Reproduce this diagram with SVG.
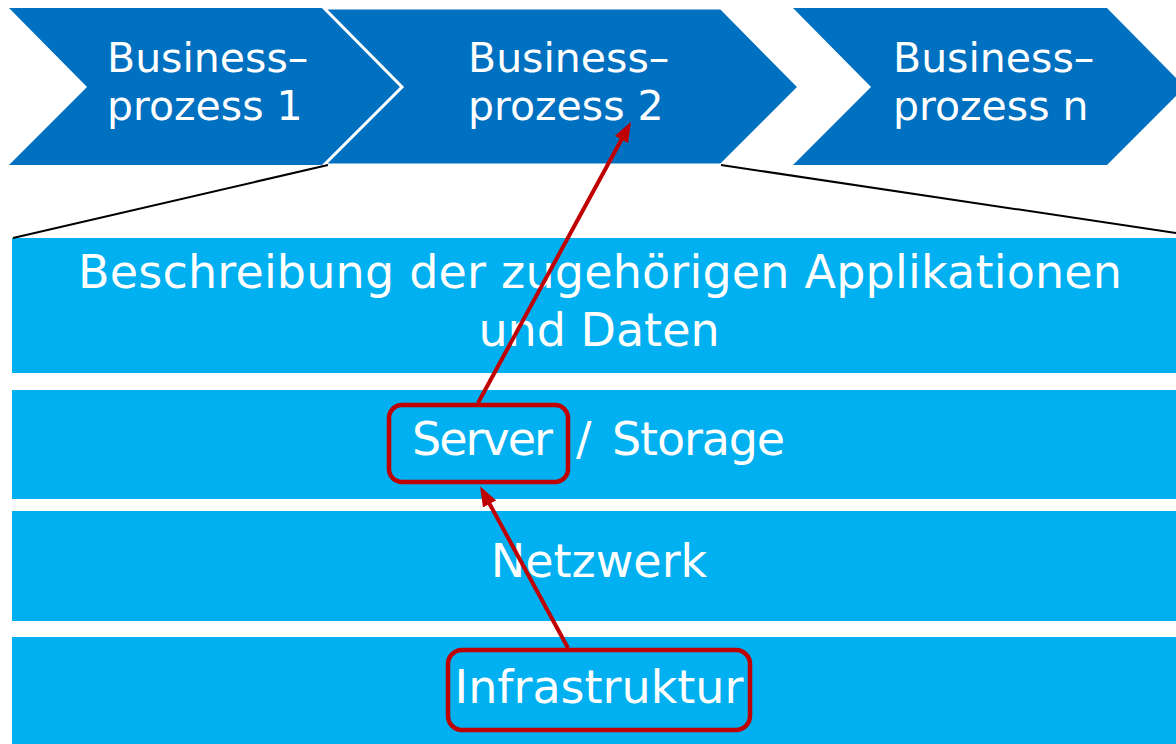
<svg xmlns="http://www.w3.org/2000/svg" width="1176" height="744" viewBox="0 0 1176 744">
<style>
.chev{fill:#0070C0}
.band{fill:#00B0F0}
.t{font-family:"DejaVu Sans","Verdana",sans-serif;fill:#FFFFFF}
.ct{font-size:41px}
.bt{font-size:46px}
.hl{fill:none;stroke:#C00000;stroke-width:4.5}
.edge{stroke:#000000;stroke-width:2;fill:none}
.red{stroke:#C00000;stroke-width:4;fill:none}
</style>
<defs>
<marker id="ah" viewBox="0 0 20 15" refX="9" refY="7.5" markerWidth="20" markerHeight="15" markerUnits="userSpaceOnUse" orient="auto">
<path d="M0,0 L20,7.5 L0,15 z" fill="#C00000"/>
</marker>
</defs>
<rect width="1176" height="744" fill="#FFFFFF"/>
<g id="bp1">
<polygon class="chev" points="9,8 325,8 403,87 325,165 9,165 87,87"/>
<text class="t ct" x="107" y="72">Business–</text>
<text class="t ct" x="107" y="120">prozess 1</text>
</g>
<g id="bp2">
<polygon class="chev" points="324,8 721,8 799,87 721,165 324,165 402,87" stroke="#FFFFFF" stroke-width="3"/>
<text class="t ct" x="468" y="72">Business–</text>
<text class="t ct" x="468" y="120">prozess 2</text>
</g>
<g id="bpn">
<polygon class="chev" points="793,8 1107,8 1185,87 1107,165 793,165 871,87"/>
<text class="t ct" x="893" y="72">Business–</text>
<text class="t ct" x="893" y="120">prozess n</text>
</g>
<g id="layer-apps">
<rect class="band" x="12" y="238" width="1164" height="135"/>
<text class="t bt" x="600" y="288" text-anchor="middle" textLength="1044">Beschreibung der zugehörigen Applikationen</text>
<text class="t bt" x="599" y="346" text-anchor="middle">und Daten</text>
</g>
<g id="layer-server">
<rect class="band" x="12" y="390" width="1164" height="109"/>
<text class="t bt" y="455"><tspan x="412" textLength="141">Server</tspan> <tspan x="576">/</tspan> <tspan x="612" textLength="173">Storage</tspan></text>
<rect id="server-highlight" class="hl" x="389" y="405" width="179" height="77" rx="13"/>
</g>
<g id="layer-netz">
<rect class="band" x="12" y="511" width="1164" height="110"/>
<text class="t bt" x="599" y="577" text-anchor="middle">Netzwerk</text>
</g>
<g id="layer-infra">
<rect class="band" x="12" y="637" width="1164" height="107"/>
<text class="t bt" x="599" y="703" text-anchor="middle">Infrastruktur</text>
<rect id="infra-highlight" class="hl" x="448" y="650" width="302" height="80" rx="14"/>
</g>
<g id="connectors">
<line class="edge" x1="328" y1="165" x2="13" y2="238"/>
<line class="edge" x1="721" y1="165" x2="1176" y2="233"/>
<line class="red" x1="568" y1="648" x2="485.3" y2="496" marker-end="url(#ah)"/>
<line class="red" x1="478" y1="403" x2="625.7" y2="131.7" marker-end="url(#ah)"/>
</g>
</svg>
